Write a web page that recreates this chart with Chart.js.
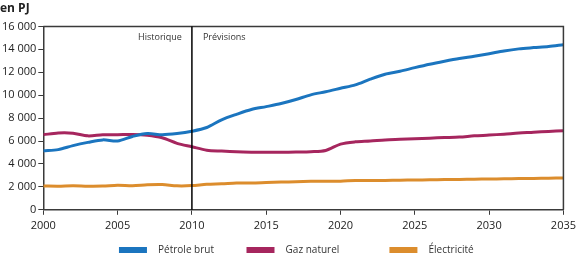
<!DOCTYPE html>
<html>
<head>
<meta charset="utf-8">
<script src="https://cdn.jsdelivr.net/npm/chart.js@4"></script>
<style>
    html, body { margin: 0; padding: 0; background: #fff; }
    #wrap { width: 580px; height: 256px; position: relative; }
</style>
</head>
<body>
<div id="wrap"><canvas id="chart"></canvas></div>
<script>
// Data
const years = [2000, 2001, 2002, 2003, 2004, 2005, 2006, 2007, 2008, 2009,
    2010, 2011, 2012, 2013, 2014, 2015, 2016, 2017, 2018, 2019,
    2020, 2021, 2022, 2023, 2024, 2025, 2026, 2027, 2028, 2029,
    2030, 2031, 2032, 2033, 2034, 2035];

const petrole = [5150, 5250, 5600, 5880, 6100, 6000, 6400, 6650, 6550, 6650,
    6850, 7180, 7850, 8330, 8750, 9000, 9270, 9620, 10030, 10300,
    10600, 10900, 11400, 11830, 12080, 12400, 12700, 12960, 13200, 13400,
    13620, 13860, 14040, 14150, 14250, 14400];

const gaz = [6550, 6700, 6680, 6450, 6550, 6550, 6570, 6500, 6280, 5800,
    5500, 5200, 5120, 5060, 5030, 5020, 5020, 5040, 5070, 5180,
    5730, 5930, 6000, 6100, 6150, 6200, 6250, 6300, 6350, 6450,
    6520, 6600, 6700, 6760, 6840, 6900];

const electricite = [2080, 2060, 2100, 2060, 2070, 2150, 2100, 2180, 2200, 2090,
    2110, 2230, 2270, 2330, 2340, 2380, 2420, 2450, 2480, 2490,
    2500, 2550, 2550, 2560, 2580, 2600, 2620, 2640, 2650, 2670,
    2690, 2700, 2720, 2740, 2760, 2780];

const seriesNames = ['Pétrole brut', 'Gaz naturel', 'Électricité'];
const seriesColors = ['#1b75bf', '#a6265e', '#dc8d2d'];

const yTicks = [0, 2000, 4000, 6000, 8000, 10000, 12000, 14000, 16000];
const splitYear = 2010;
const periodLabels = ['Historique', 'Prévisions'];

const FONT = "'Open Sans', sans-serif";
const AXIS = '#3a3a3a';

// spacing after each legend label (em / en spaces)
const legendTails = ['\u2003\u2003\u2003', '\u2003\u2003\u2003\u2003\u2002 ', '\u2003 '];

const toPoints = arr => arr.map((v, i) => ({ x: years[i], y: v }));

// Frame, 2010 divider and period labels
const framePlugin = {
    id: 'frame',
    afterDatasetsDraw(chart) {
        const { ctx, chartArea: a, scales } = chart;
        ctx.save();
        ctx.strokeStyle = AXIS;
        ctx.lineWidth = 1.5;
        ctx.beginPath();
        ctx.moveTo(a.left, a.top);
        ctx.lineTo(a.right, a.top);
        ctx.lineTo(a.right, a.bottom);
        ctx.stroke();

        const xs = scales.x.getPixelForValue(splitYear);
        ctx.strokeStyle = '#000';
        ctx.lineWidth = 1.5;
        ctx.beginPath();
        ctx.moveTo(xs, a.top);
        ctx.lineTo(xs, a.bottom);
        ctx.stroke();

        ctx.fillStyle = '#333';
        ctx.font = "9px " + FONT;
        ctx.textBaseline = 'middle';
        ctx.textAlign = 'right';
        ctx.fillText(periodLabels[0], xs - 10, a.top + 11);
        ctx.textAlign = 'left';
        ctx.fillText(periodLabels[1], xs + 11, a.top + 11);
        ctx.restore();
    }
};

const ctx = document.getElementById('chart').getContext('2d');
new Chart(ctx, {
    type: 'line',
    data: {
        datasets: [petrole, gaz, electricite].map((arr, i) => ({
            label: seriesNames[i],
            data: toPoints(arr),
            borderColor: seriesColors[i],
            backgroundColor: seriesColors[i],
            borderWidth: 3,
            pointRadius: 0,
            tension: 0.3,
            fill: false
        }))
    },
    options: {
        responsive: true,
        maintainAspectRatio: false,
        animation: false,
        layout: { padding: { left: 0, right: 5, top: 0, bottom: 0 } },
        plugins: {
            title: {
                display: true,
                text: 'en PJ',
                align: 'start',
                color: '#222',
                font: { family: FONT, size: 12, weight: 'bold' },
                padding: { top: 1, bottom: 11 }
            },
            legend: {
                position: 'bottom',
                fullSize: false,
                maxHeight: 15,
                labels: {
                    boxWidth: 25,
                    boxHeight: 3,
                    padding: 4,
                    color: '#333',
                    font: { family: FONT, size: 10 },
                    generateLabels(chart) {
                        const items = Chart.defaults.plugins.legend.labels.generateLabels(chart);
                        items.forEach((it, i) => { it.text = '\u2002 ' + it.text + legendTails[i]; });
                        return items;
                    }
                }
            },
            tooltip: { enabled: false }
        },
        scales: {
            x: {
                type: 'linear',
                min: 2000,
                max: 2035,
                afterFit: axis => { axis.height += 5; },
                ticks: {
                    stepSize: 5,
                    color: '#222',
                    font: { family: FONT, size: 11 },
                    padding: 4,
                    maxRotation: 0,
                    callback: v => String(v)
                },
                grid: { drawOnChartArea: false, drawTicks: true, tickLength: 5, color: AXIS },
                border: { display: true, color: AXIS, width: 1.5 }
            },
            y: {
                min: 0,
                max: 16000,
                afterBuildTicks: axis => { axis.ticks = yTicks.map(v => ({ value: v })); },
                ticks: {
                    color: '#222',
                    font: { family: FONT, size: 11 },
                    padding: 2,
                    callback: v => v.toLocaleString('fr-FR').replace(/\s/g, ' ')
                },
                grid: { drawOnChartArea: false, drawTicks: true, tickLength: 5, color: AXIS },
                border: { display: true, color: AXIS, width: 1.5 }
            }
        }
    },
    plugins: [framePlugin]
});
</script>
</body>
</html>
